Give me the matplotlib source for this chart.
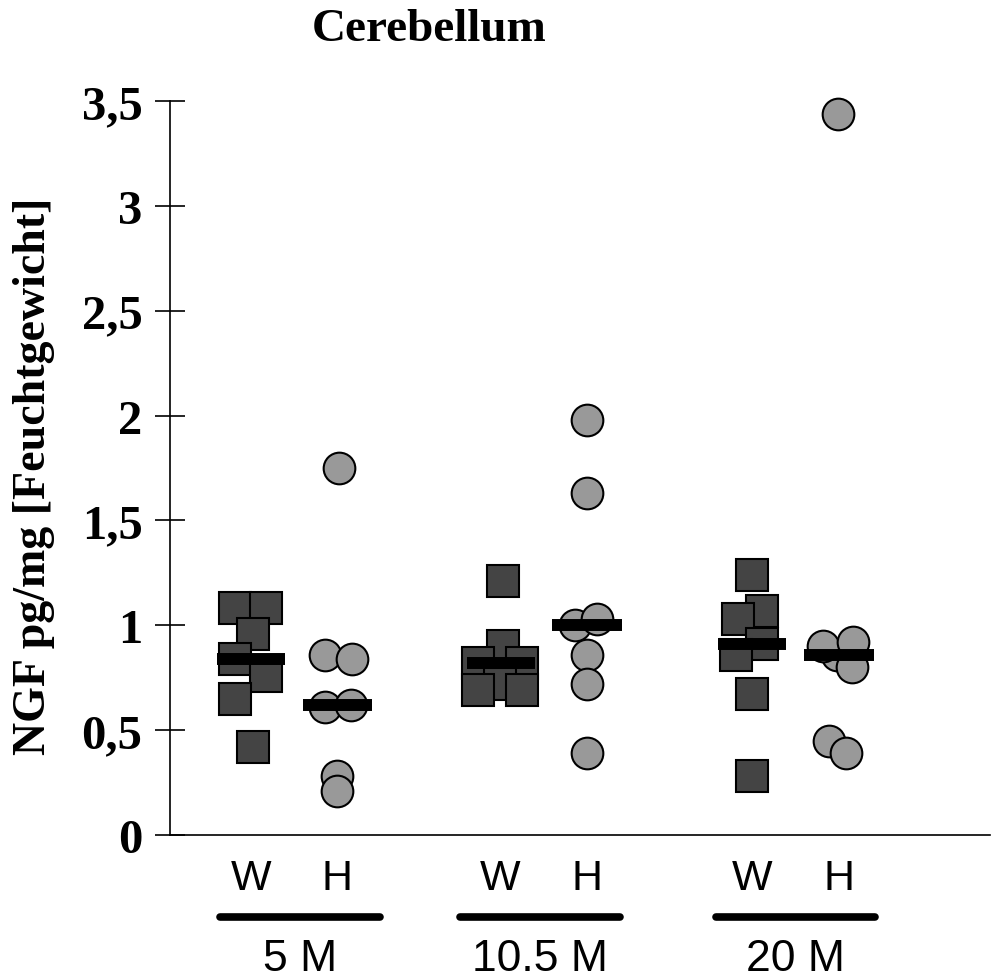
import numpy as np
import matplotlib.pyplot as plt
from matplotlib.transforms import blended_transform_factory

# ----------------------------
# Data (NGF pg/mg, Cerebellum)
# ----------------------------
groups = ["5 M", "10.5 M", "20 M"]
sub_labels = ["W", "H"]

w_values = [
    [1.08, 1.08, 0.96, 0.84, 0.76, 0.65, 0.42],
    [1.21, 0.90, 0.82, 0.82, 0.72, 0.69, 0.69],
    [1.24, 1.07, 1.03, 0.91, 0.86, 0.67, 0.28],
]
h_values = [
    [1.75, 0.86, 0.84, 0.61, 0.62, 0.28, 0.21],
    [1.98, 1.63, 1.00, 1.03, 0.86, 0.72, 0.39],
    [3.44, 0.86, 0.90, 0.92, 0.80, 0.45, 0.39],
]

# horizontal scatter offsets of the points (layout only)
w_jitter = [
    [-0.18, 0.18, 0.03, -0.18, 0.18, -0.18, 0.03],
    [0.03, 0.03, -0.26, 0.25, -0.01, -0.26, 0.25],
    [0.0, 0.12, -0.17, 0.12, -0.19, 0.0, 0.0],
]
h_jitter = [
    [0.02, -0.14, 0.17, -0.14, 0.16, -0.01, -0.01],
    [0.0, 0.0, -0.14, 0.12, 0.0, 0.0, 0.0],
    [-0.01, -0.02, -0.18, 0.17, 0.15, -0.11, 0.08],
]

group_centers = [1.46, 4.40, 7.36]
half_gap = 0.51
line_centers = [1.53, 4.35, 7.36]

serif = ["Liberation Serif", "DejaVu Serif"]
sans = ["Liberation Sans", "DejaVu Sans"]

fig = plt.figure(figsize=(9.94, 9.79), dpi=100)
ax = fig.add_axes([0.171, 0.1461, 0.825, 0.7497])

for i in range(len(groups)):
    xw = group_centers[i] - half_gap
    xh = group_centers[i] + half_gap
    for v, j in zip(w_values[i], w_jitter[i]):
        ax.plot(xw + j, v, marker="s", ms=22.5, mfc="#444444", mec="black",
                mew=1.5, ls="none", zorder=3, clip_on=False)
    for v, j in zip(h_values[i], h_jitter[i]):
        ax.plot(xh + j, v, marker="o", ms=22.8, mfc="#999999", mec="black",
                mew=1.5, ls="none", zorder=3, clip_on=False)
    # median bars
    ax.hlines(np.median(w_values[i]), xw - 0.4, xw + 0.4, color="black",
              lw=8.6, zorder=4)
    ax.hlines(np.median(h_values[i]), xh - 0.41, xh + 0.41, color="black",
              lw=8.6, zorder=4)

ax.set_xlim(0, 9.65)
ax.set_ylim(0, 3.5)
ax.set_yticks([0, 0.5, 1, 1.5, 2, 2.5, 3, 3.5])
ax.set_yticklabels(["0", "0,5", "1", "1,5", "2", "2,5", "3", "3,5"],
                   fontfamily=serif, fontweight="bold", fontsize=35)
ax.set_xticks([])
ax.tick_params(axis="y", direction="inout", length=21.6, width=1.2, pad=9)
for s in ["top", "right"]:
    ax.spines[s].set_visible(False)
for s in ["left", "bottom"]:
    ax.spines[s].set_linewidth(1.2)

# group annotations below the axis
trans = blended_transform_factory(ax.transData, fig.transFigure)
for i, g in enumerate(groups):
    for k, lab in enumerate(sub_labels):
        x = group_centers[i] + (2 * k - 1) * half_gap
        ax.text(x, 1 - 879 / 979, lab, transform=trans, ha="center",
                va="center", fontsize=31, family=sans)
    lc = line_centers[i]
    ax.plot([lc - 0.94, lc + 0.94], [1 - 918 / 979] * 2, transform=trans,
            color="black", lw=5.5, solid_capstyle="round", clip_on=False)
    ax.text(lc, 1 - 960 / 979, g, transform=trans, ha="center", va="center",
            fontsize=32, family=sans)

fig.text(0.432, 0.969, "Cerebellum", ha="center", va="center",
         fontsize=34, fontweight="bold", family=serif)
fig.text(0.034, 0.513, "NGF pg/mg [Feuchtgewicht]", rotation=90,
         ha="center", va="center", fontsize=33, fontweight="bold",
         family=serif)

fig.savefig("out.png", dpi=100)
